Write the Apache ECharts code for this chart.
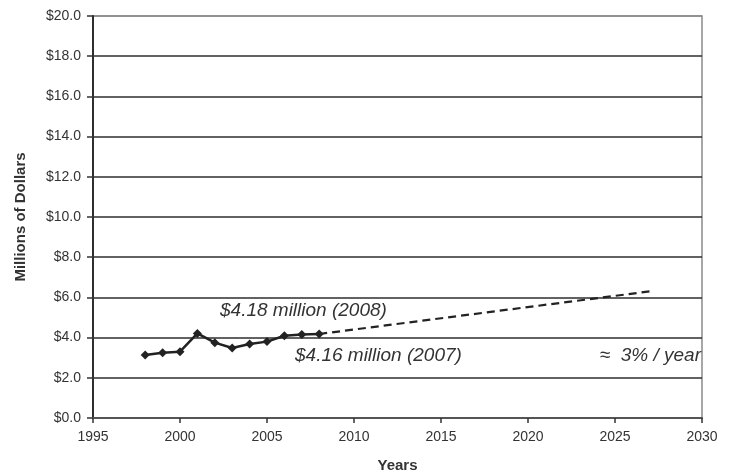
<!DOCTYPE html>
<html>
<head>
<meta charset="utf-8">
<script src="https://cdn.jsdelivr.net/npm/echarts@6/dist/echarts.min.js"></script>
<style>
  html, body { margin: 0; padding: 0; background: #ffffff; }
  #chart { width: 737px; height: 474px; }
</style>
</head>
<body>
<div id="chart"></div>
<script>
// Historical values (millions of dollars)
const years = [1998, 1999, 2000, 2001, 2002, 2003, 2004, 2005, 2006, 2007, 2008];
const values = [3.13, 3.25, 3.30, 4.21, 3.75, 3.48, 3.68, 3.80, 4.09, 4.16, 4.18];

// Projection at roughly 3% per year
const projYears = [2008, 2027];
const projValues = [4.18, 6.30];

// Axis ticks
const xTicks = [1995, 2000, 2005, 2010, 2015, 2020, 2025, 2030];
const yTicks = [0, 2, 4, 6, 8, 10, 12, 14, 16, 18, 20];

// Text notes
const notes = [
  { text: '$4.18 million (2008)', x: 220, y: 311, align: 'left' },
  { text: '$4.16 million (2007)', x: 295, y: 356, align: 'left' },
  { text: '\u2248  3% / year', x: 701, y: 356, align: 'right' }
];

const chart = echarts.init(document.getElementById('chart'));
const font = '"Liberation Sans", Arial, sans-serif';

const gridColors = yTicks.map((v, i) => (i === yTicks.length - 1 ? '#8a8a8a' : '#2e2e2e'));

chart.setOption({
  animation: false,
  backgroundColor: '#ffffff',
  grid: {
    left: 93, right: 35, top: 16, bottom: 56,
    outerBoundsMode: 'none',
    containLabel: false,
    show: true, borderColor: '#8a8a8a', borderWidth: 1.5
  },
  xAxis: {
    type: 'value',
    min: xTicks[0], max: xTicks[xTicks.length - 1], interval: 5,
    name: 'Years', nameLocation: 'middle', nameGap: 40,
    nameTextStyle: { fontFamily: font, fontSize: 15, fontWeight: 'bold', color: '#333' },
    axisLine: { show: true, onZero: false, lineStyle: { color: '#555', width: 2 } },
    axisTick: { show: true, length: 5, lineStyle: { color: '#333', width: 1.5 } },
    axisLabel: { fontFamily: font, fontSize: 14, color: '#333', margin: 12, formatter: v => String(v) },
    splitLine: { show: false }
  },
  yAxis: {
    type: 'value',
    min: yTicks[0], max: yTicks[yTicks.length - 1], interval: 2,
    name: 'Millions of Dollars', nameLocation: 'middle', nameGap: 65, nameRotate: 90,
    nameTextStyle: { fontFamily: font, fontSize: 15, fontWeight: 'bold', color: '#333' },
    axisLine: { show: true, lineStyle: { color: '#2e2e2e', width: 2 } },
    axisTick: { show: true, length: 6, lineStyle: { color: '#333', width: 1.5 } },
    axisLabel: { fontFamily: font, fontSize: 14, color: '#333', margin: 12, formatter: v => '$' + v.toFixed(1) },
    splitLine: { show: true, lineStyle: { color: gridColors, width: 1.6 } }
  },
  series: [
    {
      type: 'line',
      data: projYears.map((y, i) => [y, projValues[i]]),
      symbol: 'none',
      lineStyle: { color: '#222', width: 2.2, type: [8, 5] },
      z: 3
    },
    {
      type: 'line',
      data: years.map((y, i) => [y, values[i]]),
      symbol: 'diamond', symbolSize: 9,
      itemStyle: { color: '#222' },
      lineStyle: { color: '#222', width: 2.5 },
      z: 4
    }
  ],
  graphic: notes.map(n => ({
    type: 'text',
    x: n.x, y: n.y,
    style: {
      text: n.text, fontFamily: font, fontSize: 19, fontStyle: 'italic', fill: '#333',
      align: n.align, verticalAlign: 'middle'
    }
  }))
});
</script>
</body>
</html>
